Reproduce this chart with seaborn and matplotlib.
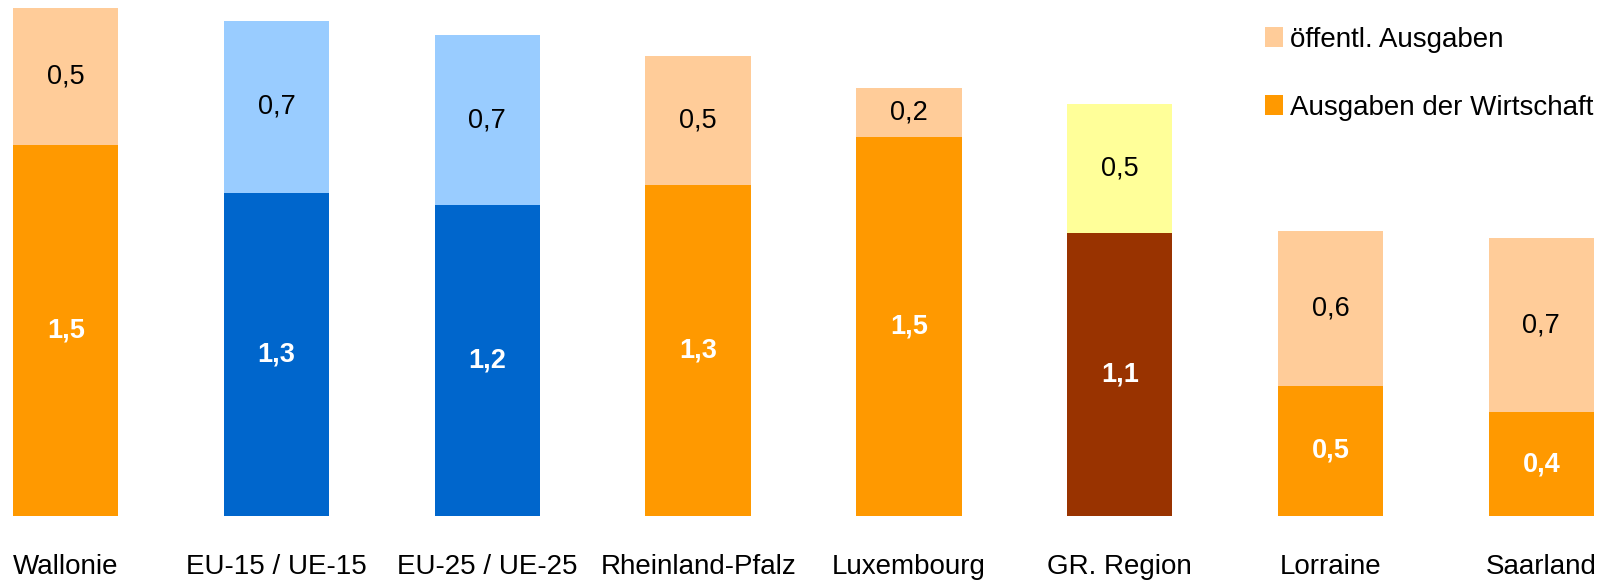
import matplotlib
matplotlib.use("Agg")
import matplotlib.pyplot as plt
from matplotlib.patches import Patch
import seaborn as sns
import numpy as np

# ---- data ----
categories = ["Wallonie", "EU-15 / UE-15", "EU-25 / UE-25", "Rheinland-Pfalz",
              "Luxembourg", "GR. Region", "Lorraine", "Saarland"]
wirtschaft = [1.47, 1.28, 1.23, 1.31, 1.50, 1.12, 0.515, 0.41]   # Ausgaben der Wirtschaft
oeffentl   = [0.54, 0.68, 0.675, 0.51, 0.195, 0.51, 0.615, 0.69]  # öffentl. Ausgaben
legend_labels = ["öffentl. Ausgaben", "Ausgaben der Wirtschaft"]

bottom_colors = ["#FF9900", "#0066CC", "#0066CC", "#FF9900", "#FF9900", "#993300", "#FF9900", "#FF9900"]
top_colors    = ["#FFCC99", "#99CCFF", "#99CCFF", "#FFCC99", "#FFCC99", "#FFFF99", "#FFCC99", "#FFCC99"]

sns.set_style("white")
plt.rcParams['font.family'] = ['Liberation Sans', 'DejaVu Sans']
plt.rcParams['text.color'] = 'black'

W, H = 1609, 584
fig = plt.figure(figsize=(W / 100, H / 100), dpi=100)
ax = fig.add_axes([0, 68 / H, 1, (H - 68) / H])

totals = [a + b for a, b in zip(wirtschaft, oeffentl)]

sns.barplot(x=categories, y=totals, hue=categories, palette=top_colors,
            width=0.5, saturation=1, legend=False, ax=ax, order=categories,
            hue_order=categories)
sns.barplot(x=categories, y=wirtschaft, hue=categories, palette=bottom_colors,
            width=0.5, saturation=1, legend=False, ax=ax, order=categories,
            hue_order=categories)

for p in ax.patches:
    p.set_edgecolor("none")
    p.set_linewidth(0)

fmt = lambda v: f"{v:.1f}".replace(".", ",")
for i, (b, t) in enumerate(zip(wirtschaft, oeffentl)):
    ax.text(i, b / 2, fmt(b), ha="center", va="center", color="white",
            fontsize=19.5, fontweight="bold")
    ax.text(i, b + t / 2, fmt(t), ha="center", va="center", color="black",
            fontsize=19.5)

ax.set_xlim(-0.312, 7.321)
ax.set_ylim(0, 516 / 252.6)
ax.set_yticks([])
ax.set_xticks(range(len(categories)))
ax.set_xticklabels(categories, fontsize=20, color="black")
ax.tick_params(axis="x", length=0, pad=27)
ax.set_xlabel("")
ax.set_ylabel("")
for s in ax.spines.values():
    s.set_visible(False)

handles = [Patch(facecolor="#FFCC99", edgecolor="none"),
           Patch(facecolor="#FF9900", edgecolor="none")]
leg = fig.legend(handles, legend_labels, loc="upper left",
                 bbox_to_anchor=(1265 / W, 1 - 27 / H), frameon=False,
                 fontsize=20, handlelength=0.65, handleheight=0.72,
                 handletextpad=0.25, labelspacing=1.5, borderpad=0, borderaxespad=0)
for t in leg.get_texts():
    t.set_color("black")

fig.savefig("out.png", dpi=100)
